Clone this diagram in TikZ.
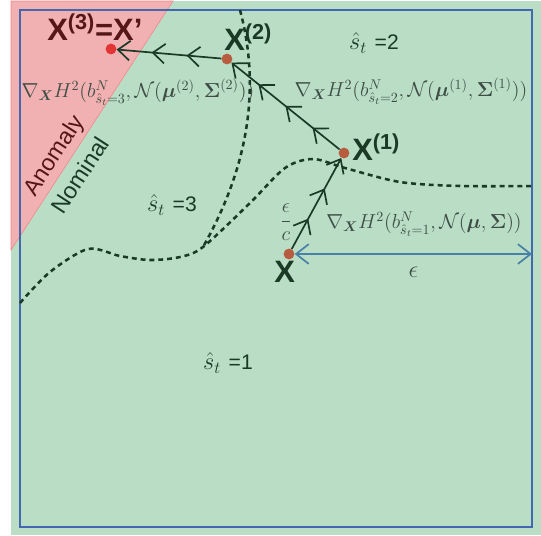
\documentclass[tikz,border=0pt]{standalone}
\usepackage{amsmath,amssymb,bm}
\usepackage{fontspec}
\setsansfont{Liberation Sans}
\usepackage{xcolor}
\usetikzlibrary{arrows.meta,positioning,decorations.markings}
\definecolor{Xbg}{RGB}{186,221,198}
\definecolor{Xpink}{RGB}{241,176,177}
\definecolor{Xframe}{RGB}{68,104,176}
\definecolor{Xdark}{RGB}{26,58,38}
\definecolor{Xwine}{RGB}{84,22,22}
\definecolor{Xgray}{RGB}{62,78,70}
\definecolor{Xdot}{RGB}{184,92,64}
\definecolor{Xred}{RGB}{226,52,52}
\definecolor{Xsteel}{RGB}{72,128,166}
\tikzset{
  pt/.style={circle, fill=Xdot, inner sep=0pt, minimum size=0.27cm},
  ptname/.style={font=\fontsize{22}{24}\selectfont\sffamily\bfseries, text=Xdark, inner sep=0pt},
  region/.style={font=\fontsize{18}{21}\selectfont, text=Xdark, inner sep=0pt},
  grad/.style={font=\fontsize{14}{16}\selectfont, text=Xgray, inner sep=1pt},
  side/.style={rotate=57, font=\fontsize{16.5}{19}\selectfont\sffamily, inner sep=0pt},
  boundary/.style={line width=1.8pt, dash pattern=on 3.5pt off 2.8pt, draw=Xdark},
  move/.style={-{Straight Barb[length=8.5pt,width=14pt]}, line width=1.2pt, draw=Xdark, color=Xdark,
    postaction={decorate},
    decoration={markings, mark=between positions #1 and 0.9 step #1 with {\arrow{Straight Barb[length=8.5pt,width=14pt]}}}},
  reach/.style={{Straight Barb[length=9pt,width=14pt]}-{Straight Barb[length=9pt,width=14pt]}, line width=1.2pt, draw=Xsteel}
}
\newcommand{\sval}[1]{{\fontsize{15}{18}\selectfont\sffamily #1}}

\begin{document}
\begin{tikzpicture}[x=0.025cm, y=-0.025cm]
  \useasboundingbox (0,0) rectangle (541,535);
  \fill[Xbg] (11,1) rectangle (541,535);
  \filldraw[fill=Xpink, draw=Xpink!75!red, thin] (11,1) -- (173,1) -- (11,250) -- cycle;
  \draw[Xframe, line width=1.5pt] (20,10) rectangle (532,527);

  \draw[boundary] (240,10) .. controls (256,70) and (258,150) .. (203,247);
  \draw[boundary] plot[smooth] coordinates {(20,303) (50,272) (88,249) (120,256) (150,260) (180,257) (203,247)
    (250,203) (285,168) (313,159) (345,168) (400,182) (460,186) (532,186)};

  \node[pt] (x) at (289,254) {};
  \node[pt] (x1) at (344,153) {};
  \node[pt] (x2) at (227,59) {};
  \node[pt, fill=Xred] (x3) at (111,49) {};
  \coordinate (edge) at (532,254);

  \draw[move=0.333] (x) -- (x1);
  \draw[move=0.25] (x1) -- (x2);
  \draw[move=0.333] (x2) -- (x3);
  \draw[reach] (x) -- (edge) node[midway, below=5pt, text=Xgray, font=\fontsize{16}{19}\selectfont] (eps) {$\epsilon$};

  \node[ptname, below=1pt of x, xshift=-3pt] (xl) {X};
  \node[ptname, anchor=base west] (x1l) at (352,160) {X\textsuperscript{(1)}};
  \node[ptname, anchor=base west] (x2l) at (224,50) {X\textsuperscript{(2)}};
  \node[ptname, text=Xwine, anchor=base west] (x3l) at (47,40) {X\textsuperscript{(3)}=X'};

  \node[region] (r1) at (228,363) {$\hat{s}_t$ \sval{=1}};
  \node[region] (r2) at (374,43) {$\hat{s}_t$ \sval{=2}};
  \node[region] (r3) at (172,205) {$\hat{s}_t$ \sval{=3}};

  \node[grad] (g1) at (424,224) {$\nabla_{\bm{X}} H^2(b^N_{\hat{s}_t=1}, \mathcal{N}(\bm{\mu},\bm{\Sigma}))$};
  \node[grad] (g2) at (411,91) {$\nabla_{\bm{X}} H^2(b^N_{\hat{s}_t=2}, \mathcal{N}(\bm{\mu}^{(1)},\bm{\Sigma}^{(1)}))$};
  \node[grad] (g3) at (138,92) {$\nabla_{\bm{X}} H^2(b^N_{\hat{s}_t=3}, \mathcal{N}(\bm{\mu}^{(2)},\bm{\Sigma}^{(2)}))$};
  \node[grad, font=\fontsize{15}{17}\selectfont] (stepsize) at (286,222) {$\dfrac{\epsilon}{c}$};

  \node[side, text=Xwine] (anom) at (55,156) {Anomaly};
  \node[side, text=Xdark] (nom) at (80,175) {Nominal};
\end{tikzpicture}
\end{document}
